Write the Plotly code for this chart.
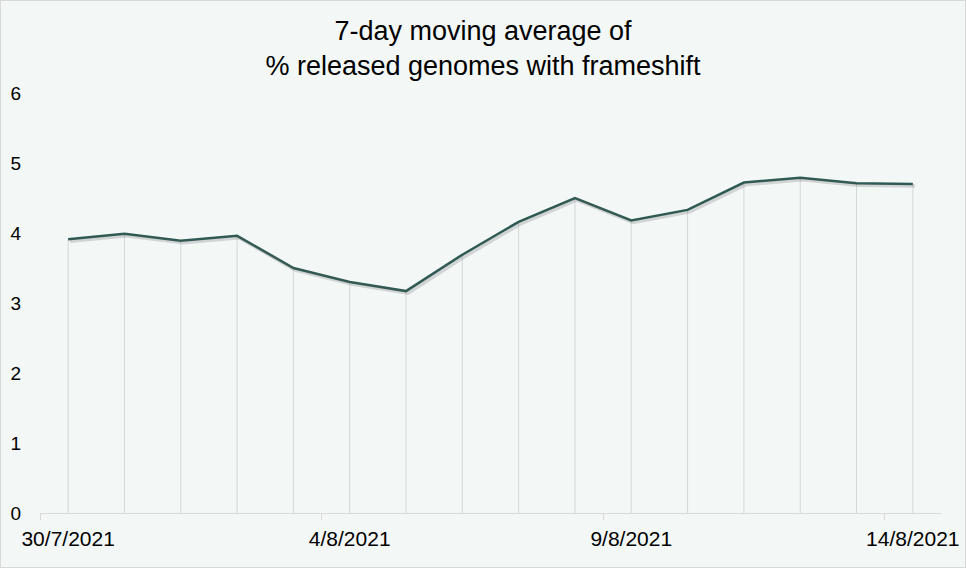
import plotly.graph_objects as go

dates = ["30/7/2021", "31/7/2021", "1/8/2021", "2/8/2021", "3/8/2021", "4/8/2021",
         "5/8/2021", "6/8/2021", "7/8/2021", "8/8/2021", "9/8/2021", "10/8/2021",
         "11/8/2021", "12/8/2021", "13/8/2021", "14/8/2021"]
pct_frameshift = [3.91, 3.99, 3.89, 3.96, 3.50, 3.30, 3.17, 3.69, 4.16, 4.50,
                  4.18, 4.33, 4.72, 4.79, 4.71, 4.70]
label_every = 5
y_ticks = [0, 1, 2, 3, 4, 5, 6]

idx = list(range(len(dates)))
tick_idx = idx[::label_every]
tick_txt = [dates[i] for i in tick_idx]
boundary_ticks = [i - 0.5 for i in tick_idx]

W, H = 966, 568
ml, mr, mt, mb = 40, 25, 93, 55
pw, ph = W - ml - mr, H - mt - mb
xr = [-0.5, len(dates) - 0.5]
yr = [0, 6]
dx = 2 * (xr[1] - xr[0]) / pw
dy = 2 * (yr[1] - yr[0]) / ph

font = "Liberation Sans, Arial, sans-serif"
line_col = "#2e5a53"

fig = go.Figure()
# drop lines
fig.add_trace(go.Scatter(
    x=idx, y=pct_frameshift, mode="markers", marker=dict(size=0.1, color="rgba(0,0,0,0)"),
    error_y=dict(type="data", symmetric=False, array=[0] * len(idx), arrayminus=pct_frameshift,
                 color="#d4d7d6", thickness=1, width=0),
    hoverinfo="skip", showlegend=False))
# shadow
fig.add_trace(go.Scatter(
    x=idx, y=pct_frameshift, mode="lines", xaxis="x2", yaxis="y2",
    line=dict(color="rgba(90,90,90,0.22)", width=3.5),
    hoverinfo="skip", showlegend=False))
# main line
fig.add_trace(go.Scatter(
    x=idx, y=pct_frameshift, mode="lines",
    line=dict(color=line_col, width=2.5), showlegend=False))

fig.update_layout(
    width=W, height=H,
    margin=dict(l=ml, r=mr, t=mt, b=mb, autoexpand=False),
    paper_bgcolor="#f3f7f6", plot_bgcolor="#f3f7f6",
    font=dict(family=font, color="#000000"),
    title=dict(text="7-day moving average of<br>% released genomes with frameshift",
               x=0.5, xref="container", xanchor="center",
               y=1 - 40 / H, yref="container", yanchor="top",
               font=dict(size=27, family=font, color="#000000")),
    xaxis=dict(range=xr, tickmode="array", tickvals=tick_idx, ticktext=tick_txt,
               ticks="", showgrid=False, zeroline=False, automargin=False,
               showline=True, linecolor="#d9d9d9", linewidth=1,
               ticklabelstandoff=7,
               tickfont=dict(size=21, family=font, color="#000000"),
               minor=dict(tickmode="array", tickvals=boundary_ticks, ticks="outside",
                          ticklen=6, tickcolor="#d9d9d9", tickwidth=1, showgrid=False)),
    yaxis=dict(range=yr, tickmode="array", tickvals=y_ticks, showgrid=False,
               zeroline=False, showline=False, ticks="", automargin=False,
               ticklabelstandoff=18,
               tickfont=dict(size=19, family=font, color="#000000")),
    xaxis2=dict(range=[xr[0] - dx, xr[1] - dx], overlaying="x", visible=False),
    yaxis2=dict(range=[yr[0] + dy, yr[1] + dy], overlaying="y", visible=False),
    shapes=[dict(type="rect", xref="paper", yref="paper",
                 x0=-ml / pw + 0.5 / pw, x1=1 + mr / pw - 0.5 / pw,
                 y0=-mb / ph + 0.5 / ph, y1=1 + mt / ph - 0.5 / ph,
                 line=dict(color="#d9d9d9", width=1), layer="below")],
)

fig.write_html("out.html", config={"displayModeBar": False},
               post_script="document.body.style.margin='0';document.body.style.padding='0';")
